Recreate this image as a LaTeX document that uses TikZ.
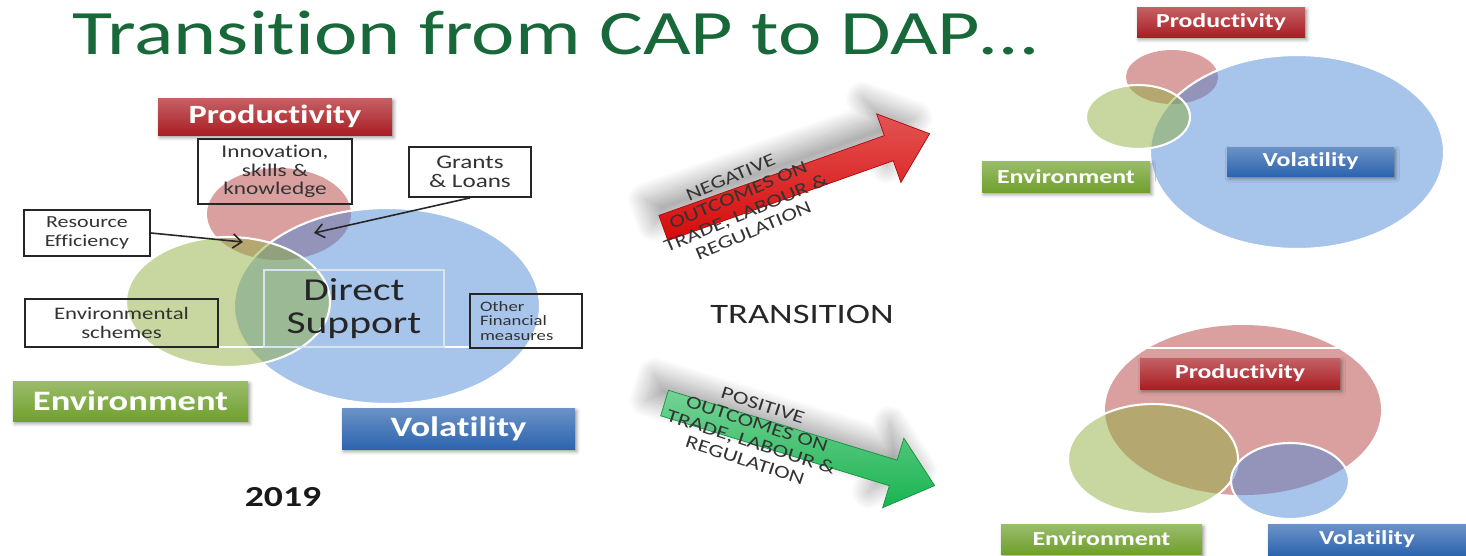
\documentclass[tikz,border=0pt]{standalone}
\usepackage{fontspec}
\setmainfont{Carlito}[FakeStretch=1.3,Ligatures=NoCommon]
\usetikzlibrary{arrows.meta}
\usetikzlibrary{shapes.arrows}
\usetikzlibrary{shadows.blur}

\definecolor{titlegreen}{RGB}{24,104,58}
\definecolor{tagred}{RGB}{170,30,35}
\definecolor{taggreen}{RGB}{112,160,45}
\definecolor{tagblue}{RGB}{45,100,175}
\definecolor{vennred}{RGB}{181,65,65}
\definecolor{venngreen}{RGB}{145,175,65}
\definecolor{vennblue}{RGB}{79,137,213}
\definecolor{arrred}{RGB}{215,10,10}
\definecolor{arrgreen}{RGB}{25,180,80}

\begin{document}
\begin{tikzpicture}[
        x=0.02cm, y=-0.02cm,
        >={Straight Barb[length=5pt,width=8pt]},
        wh/.style 2 args={minimum width=#1*0.02cm,minimum height=#2*0.02cm},
        note/.style={draw=black!85,line width=1pt,align=center,inner sep=0pt,text=black!80},
        tag/.style={text=white,inner sep=0pt,font=\bfseries\fontsize{15}{16}\selectfont,
            blur shadow={shadow xshift=1pt,shadow yshift=-1.5pt,shadow blur radius=2pt,shadow opacity=40}},
        redtag/.style={tag,top color=tagred!70!white,bottom color=tagred},
        greentag/.style={tag,top color=taggreen!70!white,bottom color=taggreen},
        bluetag/.style={tag,top color=tagblue!70!white,bottom color=tagblue},
        smalltag/.style={font=\bfseries\fontsize{11.3}{12}\selectfont},
        vred/.style={fill=vennred,fill opacity=0.5},
        vgreen/.style={fill=venngreen,fill opacity=0.5},
        vblue/.style={fill=vennblue,fill opacity=0.5},
        rim/.style={draw=white,line width=1.2pt},
        bigarrow/.style={single arrow,single arrow head extend=0.46cm,inner xsep=0pt,inner ysep=0.26cm,
            minimum height=5.65cm,single arrow tip angle=80,
            blur shadow={shadow xshift=-8pt,shadow yshift=9pt,shadow blur radius=10pt,
                shadow blur steps=30,shadow opacity=35}},
        slant/.style={align=center,text=black!80,inner sep=0pt,font=\fontsize{10.3}{11}\selectfont}
    ]
        \useasboundingbox (0,0) rectangle (1466,555);

        % title
        \node[anchor=base west,inner sep=0pt,text=titlegreen,font=\fontsize{36}{36}\selectfont]
            (title) at (72,54) {Transition from CAP to DAP\dots};

        % 2019 (CAP)
        \path[vred] (279,214) ellipse [x radius=72,y radius=46];
        \path[vblue,rim] (387,306) ellipse [x radius=153,y radius=98];
        \path[vgreen,rim] (228,302) ellipse [x radius=102,y radius=65];
        \draw[white,line width=0.6pt] (218,347) -- (470,347);

        \node[redtag,wh={234}{37}] (prodL) at (275,116.5) {Productivity};
        \node[note,wh={154}{65},font=\fontsize{10.2}{10.6}\selectfont] (innov) at (275,171.5)
            {Innovation,\\skills \&\\knowledge};
        \node[note,wh={122}{50},font=\fontsize{11}{11}\selectfont] (grants) at (470,172)
            {Grants\\\& Loans};
        \node[note,wh={126}{46},font=\fontsize{9.6}{10.8}\selectfont] (resEff) at (87,233)
            {Resource\\Efficiency};
        \node[note,wh={193}{48},font=\fontsize{10}{10.8}\selectfont] (envSch) at (121.5,323)
            {Environmental\\schemes};
        \node[note,wh={112}{54},text width=92*0.02cm,align=left,
            font=\fontsize{8.2}{8.5}\selectfont] (other) at (526,321)
            {Other\\Financial\\measures};
        \node[draw={rgb,255:red,215;green,228;blue,240},line width=0.8pt,wh={180}{77},
            align=center,inner sep=0pt,text=black!85,font=\fontsize{18.2}{18.5}\selectfont]
            (direct) at (354,308.5) {Direct\\Support};
        \node[greentag,font=\bfseries\fontsize{16}{17}\selectfont,wh={235}{40}] (envL) at (130.5,401) {Environment};
        \node[bluetag,font=\bfseries\fontsize{16}{17}\selectfont,wh={233}{41}] (volL) at (458.5,428.5) {Volatility};
        \node[font=\bfseries\fontsize{16.5}{17}\selectfont,text=black!90] (year) at (283,497) {2019};

        \coordinate (reTip) at (243,242);
        \coordinate (glTip) at (314,233);
        \draw[->,black!85,line width=0.9pt] (resEff.east) -- (reTip);
        \draw[->,black!85,line width=0.9pt] (grants.south) -- (glTip);

        % transition arrows
        \node[font=\fontsize{16}{16}\selectfont,text=black!85] (trans) at (802,314) {TRANSITION};
        \node[bigarrow,top color=arrred!70!white,bottom color=arrred,draw=arrred!80!black,
            rotate=19.5] (negArr) at (789,183.5) {};
        \node[slant,rotate=23] (negTxt) at (742,204)
            {NEGATIVE\\OUTCOMES ON\\TRADE, LABOUR \&\\REGULATION};
        \node[bigarrow,top color=arrgreen!60!white,bottom color=arrgreen,draw=arrgreen!80!black,
            rotate=-17] (posArr) at (792,442) {};
        \node[slant,rotate=-18] (posTxt) at (754,433)
            {POSITIVE\\OUTCOMES ON\\TRADE, LABOUR \&\\REGULATION};

        % negative outcome
        \path[vred] (1172,77) ellipse [x radius=46,y radius=27];
        \path[vblue,rim] (1297,152) ellipse [x radius=147,y radius=97];
        \path[vgreen,rim] (1138,117) ellipse [x radius=52,y radius=32];
        \node[redtag,smalltag,wh={168}{30}] (prodT) at (1221,22) {Productivity};
        \node[bluetag,smalltag,wh={167}{29}] (volT) at (1310.5,161.5) {Volatility};
        \node[greentag,smalltag,wh={168}{31}] (envT) at (1066,176.5) {Environment};

        % positive outcome
        \path[vred] (1243,410) ellipse [x radius=138,y radius=85];
        \draw[white,line width=0.6pt] (1130,348) -- (1345,348);
        \path[vgreen,rim] (1153,459) ellipse [x radius=85,y radius=55];
        \path[vblue,rim] (1290,481) ellipse [x radius=59,y radius=38];
        \node[redtag,smalltag,wh={200}{31}] (prodB) at (1240,373.5) {Productivity};
        \node[greentag,smalltag,wh={201}{30}] (envB) at (1101.5,539) {Environment};
        \node[bluetag,smalltag,wh={198}{31}] (volB) at (1367,539.5) {Volatility};
    \end{tikzpicture}
\end{document}
